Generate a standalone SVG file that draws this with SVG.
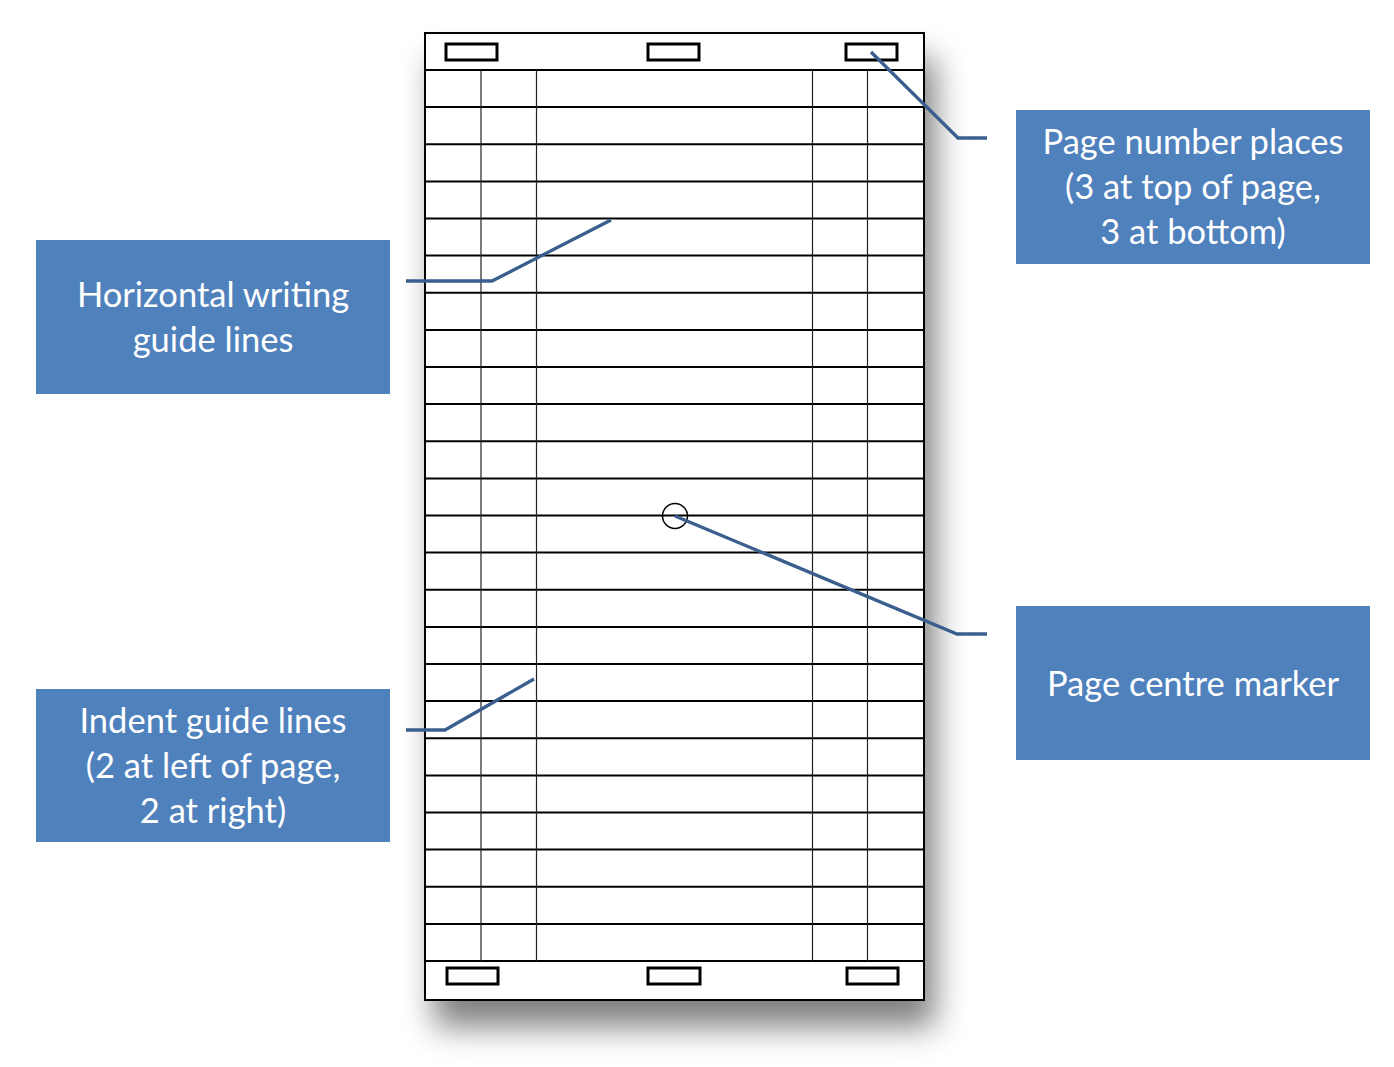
<svg xmlns="http://www.w3.org/2000/svg" width="1394" height="1067" viewBox="0 0 1394 1067">
<style>
.lbl{fill:#4F81BD}
.t{font-family:Lato,"Open Sans","Liberation Sans",sans-serif;font-size:34.5px;fill:#fff;text-anchor:middle}
.row{stroke:#000;stroke-width:2}
.col{stroke:#222;stroke-width:1.2}
.pn{fill:none;stroke:#000;stroke-width:3}
.con{fill:none;stroke:#3A5F8F;stroke-width:3.3}
</style>
<defs>
<filter id="sh" x="-20%" y="-10%" width="150%" height="130%">
<feGaussianBlur in="SourceAlpha" stdDeviation="16"/>
<feOffset dx="10" dy="26" result="b"/>
<feComponentTransfer><feFuncA type="linear" slope="0.5"/></feComponentTransfer>
<feMerge><feMergeNode/><feMergeNode in="SourceGraphic"/></feMerge>
</filter>
</defs>
<rect width="1394" height="1067" fill="#fff"/>
<g id="page">
<rect x="425" y="33" width="499" height="967" fill="#fff" stroke="#000" stroke-width="2" filter="url(#sh)"/>
<g id="rows">
<line class="row" x1="425" y1="70" x2="924" y2="70"/>
<line class="row" x1="425" y1="107.1" x2="924" y2="107.1"/>
<line class="row" x1="425" y1="144.2" x2="924" y2="144.2"/>
<line class="row" x1="425" y1="181.4" x2="924" y2="181.4"/>
<line class="row" x1="425" y1="218.5" x2="924" y2="218.5"/>
<line class="row" x1="425" y1="255.6" x2="924" y2="255.6"/>
<line class="row" x1="425" y1="292.8" x2="924" y2="292.8"/>
<line class="row" x1="425" y1="329.9" x2="924" y2="329.9"/>
<line class="row" x1="425" y1="367" x2="924" y2="367"/>
<line class="row" x1="425" y1="404.1" x2="924" y2="404.1"/>
<line class="row" x1="425" y1="441.2" x2="924" y2="441.2"/>
<line class="row" x1="425" y1="478.4" x2="924" y2="478.4"/>
<line class="row" x1="425" y1="515.5" x2="924" y2="515.5"/>
<line class="row" x1="425" y1="552.6" x2="924" y2="552.6"/>
<line class="row" x1="425" y1="589.8" x2="924" y2="589.8"/>
<line class="row" x1="425" y1="626.9" x2="924" y2="626.9"/>
<line class="row" x1="425" y1="664" x2="924" y2="664"/>
<line class="row" x1="425" y1="701.1" x2="924" y2="701.1"/>
<line class="row" x1="425" y1="738.2" x2="924" y2="738.2"/>
<line class="row" x1="425" y1="775.4" x2="924" y2="775.4"/>
<line class="row" x1="425" y1="812.5" x2="924" y2="812.5"/>
<line class="row" x1="425" y1="849.6" x2="924" y2="849.6"/>
<line class="row" x1="425" y1="886.8" x2="924" y2="886.8"/>
<line class="row" x1="425" y1="923.9" x2="924" y2="923.9"/>
<line class="row" x1="425" y1="961" x2="924" y2="961"/>
</g>
<g id="cols">
<line class="col" x1="481" y1="70" x2="481" y2="961"/>
<line class="col" x1="536.5" y1="70" x2="536.5" y2="961"/>
<line class="col" x1="812.5" y1="70" x2="812.5" y2="961"/>
<line class="col" x1="867.5" y1="70" x2="867.5" y2="961"/>
</g>
<g id="page-numbers">
<rect class="pn" x="446" y="44" width="51" height="16"/>
<rect class="pn" x="648" y="44" width="51" height="16"/>
<rect class="pn" x="846" y="44" width="51" height="16"/>
<rect class="pn" x="447" y="968" width="51" height="16"/>
<rect class="pn" x="648" y="968" width="52" height="16"/>
<rect class="pn" x="847" y="968" width="51" height="16"/>
</g>
<circle id="centre-marker" cx="675" cy="516" r="12.5" fill="none" stroke="#000" stroke-width="1.5"/>
</g>
<g id="connectors">
<polyline class="con" points="406,281 492,281 611,220"/>
<polyline class="con" points="406,730 445,730 534,679"/>
<polyline class="con" points="871,52 958,138 987,138"/>
<polyline class="con" points="675,516 957,634 987,634"/>
</g>
<g id="node-horizontal">
<rect class="lbl" x="36" y="240" width="354" height="154"/>
<text class="t" x="213" y="307">Horizontal writing</text>
<text class="t" x="213" y="352">guide lines</text>
</g>
<g id="node-indent">
<rect class="lbl" x="36" y="689" width="354" height="153"/>
<text class="t" x="213" y="733">Indent guide lines</text>
<text class="t" x="213" y="778">(2 at left of page,</text>
<text class="t" x="213" y="823">2 at right)</text>
</g>
<g id="node-pagenum">
<rect class="lbl" x="1016" y="110" width="354" height="154"/>
<text class="t" x="1193" y="154">Page number places</text>
<text class="t" x="1193" y="199">(3 at top of page,</text>
<text class="t" x="1193" y="244">3 at bottom)</text>
</g>
<g id="node-centre">
<rect class="lbl" x="1016" y="606" width="354" height="154"/>
<text class="t" x="1193" y="696">Page centre marker</text>
</g>
</svg>
